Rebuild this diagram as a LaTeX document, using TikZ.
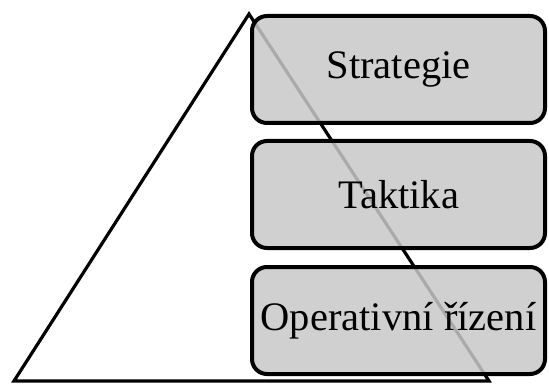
\documentclass[tikz,border=0pt]{standalone}
\usepackage{fontspec}
\setmainfont{Liberation Serif}
\definecolor{boxfill}{RGB}{200,200,200}
\tikzset{
  level/.style={draw=black, line width=4pt, rounded corners=15pt, fill=boxfill, fill opacity=0.85, text opacity=1,
    minimum width=293pt, minimum height=107pt, inner sep=0pt, font=\fontsize{40.5}{45}\selectfont, anchor=north west},
  tri/.style={draw=black, line width=3.2pt, line join=miter}
}
\begin{document}
\begin{tikzpicture}[x=1pt,y=-1pt]
\useasboundingbox (0,0) rectangle (549,385);
\coordinate (apex) at (249,14);
\coordinate (bl) at (14,381);
\coordinate (br) at (489,381);
\draw[tri] (bl) -- (apex) -- (br) -- cycle;
\node[level] (s) at (250,14) {Strategie};
\node[level] (t) at (250,139) {Taktika};
\node[level] (o) at (250,265) {Operativní řízení};
\end{tikzpicture}
\end{document}
